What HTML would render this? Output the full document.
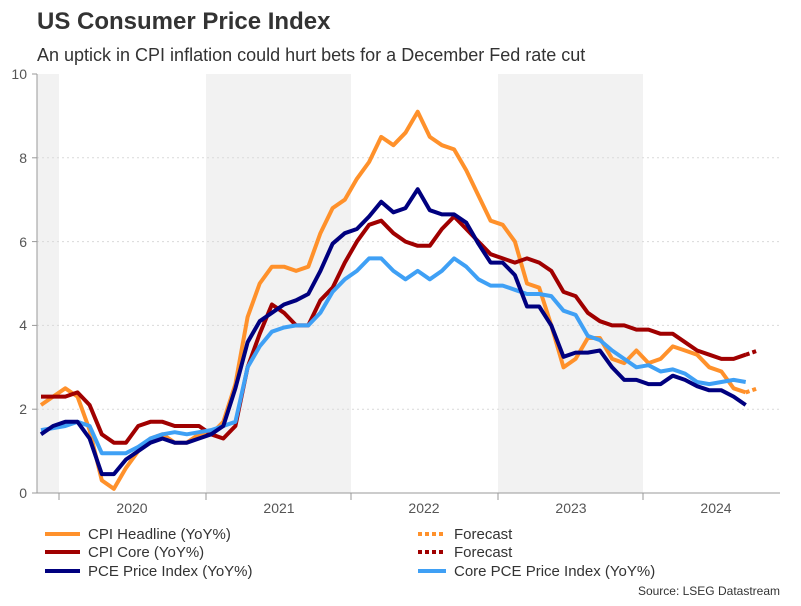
<!DOCTYPE html>
<html><head><meta charset="utf-8"><style>
body{margin:0;background:#fff;width:801px;height:601px;overflow:hidden;font-family:"Liberation Sans",sans-serif}
</style></head><body>
<svg id="s" width="801" height="601" xmlns="http://www.w3.org/2000/svg" font-family="Liberation Sans, sans-serif">
<rect width="801" height="601" fill="#fff"/>
<rect x="37" y="74" width="22" height="419" fill="#f2f2f2"/>
<rect x="206" y="74" width="145" height="419" fill="#f2f2f2"/>
<rect x="498" y="74" width="145" height="419" fill="#f2f2f2"/>
<g stroke="#d9d9d9" stroke-dasharray="2,3" stroke-width="1">
<line x1="37" x2="780" y1="409.2" y2="409.2"/><line x1="37" x2="780" y1="325.4" y2="325.4"/>
<line x1="37" x2="780" y1="241.6" y2="241.6"/><line x1="37" x2="780" y1="157.8" y2="157.8"/>
</g>
<g stroke="#999" stroke-width="1">
<line x1="37" y1="74" x2="37" y2="493"/><line x1="37" y1="493" x2="780" y2="493"/>
<line x1="59" y1="493" x2="59" y2="500"/><line x1="206" y1="493" x2="206" y2="500"/>
<line x1="351" y1="493" x2="351" y2="500"/><line x1="498" y1="493" x2="498" y2="500"/>
<line x1="643" y1="493" x2="643" y2="500"/>
<line x1="32" y1="493" x2="37" y2="493"/><line x1="32" y1="409.2" x2="37" y2="409.2"/><line x1="32" y1="325.4" x2="37" y2="325.4"/><line x1="32" y1="241.6" x2="37" y2="241.6"/><line x1="32" y1="157.8" x2="37" y2="157.8"/><line x1="32" y1="74" x2="37" y2="74"/>
</g>
<g font-size="14" fill="#555" text-anchor="end">
<text x="27" y="498">0</text><text x="27" y="414">2</text><text x="27" y="330">4</text><text x="27" y="247">6</text><text x="27" y="163">8</text><text x="27" y="79">10</text>
</g>
<g font-size="14" fill="#555" text-anchor="middle">
<text x="132" y="513">2020</text><text x="279" y="513">2021</text><text x="424" y="513">2022</text><text x="571" y="513">2023</text><text x="716" y="513">2024</text>
</g>
<g id="lines" fill="none" stroke-width="4" stroke-linejoin="round"></g>
<text x="37" y="29" font-size="24" font-weight="bold" fill="#333">US Consumer Price Index</text>
<text x="37" y="61" font-size="18" fill="#333">An uptick in CPI inflation could hurt bets for a December Fed rate cut</text>
<g stroke-width="4">
<line x1="45" y1="534" x2="80" y2="534" stroke="#ff912b"/>
<line x1="45" y1="552" x2="80" y2="552" stroke="#a00000"/>
<line x1="45" y1="571" x2="80" y2="571" stroke="#00007f"/>
<line x1="418" y1="534" x2="446" y2="534" stroke="#ff912b" stroke-dasharray="4,3"/>
<line x1="418" y1="552" x2="446" y2="552" stroke="#a00000" stroke-dasharray="4,3"/>
<line x1="418" y1="571" x2="446" y2="571" stroke="#3fa0f5"/>
</g>
<g font-size="15" fill="#333">
<text x="88" y="539">CPI Headline (YoY%)</text><text x="88" y="557">CPI Core (YoY%)</text><text x="88" y="576">PCE Price Index (YoY%)</text>
<text x="454" y="539">Forecast</text><text x="454" y="557">Forecast</text><text x="454" y="576">Core PCE Price Index (YoY%)</text>
</g>
<text x="780" y="595" font-size="12" fill="#333" text-anchor="end">Source: LSEG Datastream</text>
</svg>
<script>
var cpi=[2.1,2.3,2.5,2.3,1.5,0.3,0.1,0.6,1.0,1.3,1.4,1.2,1.2,1.4,1.4,1.7,2.6,4.2,5.0,5.4,5.4,5.3,5.4,6.2,6.8,7.0,7.5,7.9,8.5,8.3,8.6,9.1,8.5,8.3,8.2,7.7,7.1,6.5,6.4,6.0,5.0,4.9,4.0,3.0,3.2,3.7,3.7,3.2,3.1,3.4,3.1,3.2,3.5,3.4,3.3,3.0,2.9,2.5,2.4];
var core=[2.3,2.3,2.3,2.4,2.1,1.4,1.2,1.2,1.6,1.7,1.7,1.6,1.6,1.6,1.4,1.3,1.6,3.0,3.8,4.5,4.3,4.0,4.0,4.6,4.9,5.5,6.0,6.4,6.5,6.2,6.0,5.9,5.9,6.3,6.6,6.3,6.0,5.7,5.6,5.5,5.6,5.5,5.3,4.8,4.7,4.3,4.1,4.0,4.0,3.9,3.9,3.8,3.8,3.6,3.4,3.3,3.2,3.2,3.3];
var pce=[1.4,1.6,1.7,1.7,1.3,0.45,0.45,0.8,1.0,1.2,1.3,1.2,1.2,1.3,1.4,1.6,2.5,3.6,4.1,4.3,4.5,4.6,4.75,5.3,5.95,6.2,6.3,6.6,6.95,6.7,6.8,7.25,6.75,6.65,6.65,6.45,5.95,5.5,5.5,5.2,4.45,4.45,4.0,3.25,3.35,3.35,3.4,3.0,2.7,2.7,2.6,2.6,2.8,2.7,2.55,2.45,2.45,2.3,2.1];
var cpce=[1.5,1.55,1.6,1.7,1.6,0.95,0.95,0.95,1.1,1.3,1.4,1.45,1.4,1.45,1.5,1.6,1.7,3.0,3.5,3.85,3.95,4.0,4.0,4.3,4.8,5.1,5.3,5.6,5.6,5.3,5.1,5.3,5.1,5.3,5.6,5.4,5.1,4.95,4.95,4.85,4.75,4.75,4.7,4.35,4.25,3.75,3.65,3.4,3.2,3.0,3.05,2.9,2.95,2.85,2.65,2.6,2.65,2.7,2.65];
function X(i){return 41+12.15*i}function Y(v){return 493-v*41.9}
function pts(a){return a.map(function(v,i){return X(i).toFixed(1)+","+Y(v).toFixed(1)}).join(" ")}
var g=document.getElementById("lines"),h="";
h+='<polyline points="'+pts(cpi)+'" stroke="#ff912b"/>';
h+='<polyline points="'+pts(core)+'" stroke="#a00000"/>';
h+='<polyline points="'+pts(cpce)+'" stroke="#3fa0f5"/>';
h+='<polyline points="'+pts(pce)+'" stroke="#00007f"/>';
h+='<line x1="'+X(58)+'" y1="'+Y(2.4)+'" x2="'+X(59)+'" y2="'+Y(2.5)+'" stroke="#ff912b" stroke-dasharray="4,3"/>';
h+='<line x1="'+X(58)+'" y1="'+Y(3.3)+'" x2="'+X(59)+'" y2="'+Y(3.4)+'" stroke="#a00000" stroke-dasharray="4,3"/>';
g.innerHTML=h;
</script>
</body></html>
